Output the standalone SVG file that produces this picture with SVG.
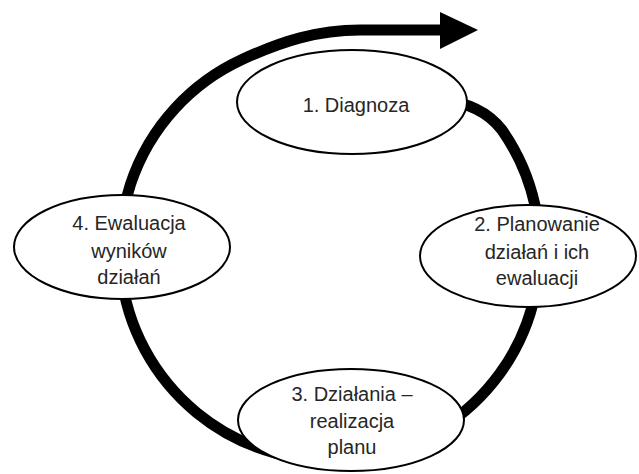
<svg xmlns="http://www.w3.org/2000/svg" width="639" height="474" viewBox="0 0 639 474">
<style>
.node ellipse{fill:#fff;stroke:#000;stroke-width:2}
.node text{font-family:"Liberation Sans",Arial,sans-serif;font-size:20px;fill:#262626;text-anchor:middle}
.cycle{fill:none;stroke:#000;stroke-width:11;stroke-linecap:butt}
</style>
<rect width="639" height="474" fill="#fff"/>
<g id="connectors">
<path class="cycle" d="M 440 100 Q 481 103 502 130 A 210 210 0 1 1 241 60 C 282 41 318 30 360 30 L 444 30"/>
<polygon points="440,12 478,30 440,49" fill="#000"/>
</g>
<g id="node1" class="node">
<ellipse cx="352" cy="102" rx="115" ry="52"/>
<text x="356" y="112">1. Diagnoza</text>
</g>
<g id="node2" class="node">
<ellipse cx="528" cy="256" rx="108" ry="51"/>
<text x="537" y="231">2. Planowanie</text>
<text x="537" y="259">działań i ich</text>
<text x="537" y="285">ewaluacji</text>
</g>
<g id="node3" class="node">
<ellipse cx="351" cy="420" rx="113" ry="51"/>
<text x="352" y="401">3. Działania –</text>
<text x="352" y="428">realizacja</text>
<text x="352" y="454">planu</text>
</g>
<g id="node4" class="node">
<ellipse cx="122" cy="247" rx="108" ry="52"/>
<text x="129" y="230">4. Ewaluacja</text>
<text x="129" y="258">wyników</text>
<text x="129" y="284">działań</text>
</g>
</svg>
